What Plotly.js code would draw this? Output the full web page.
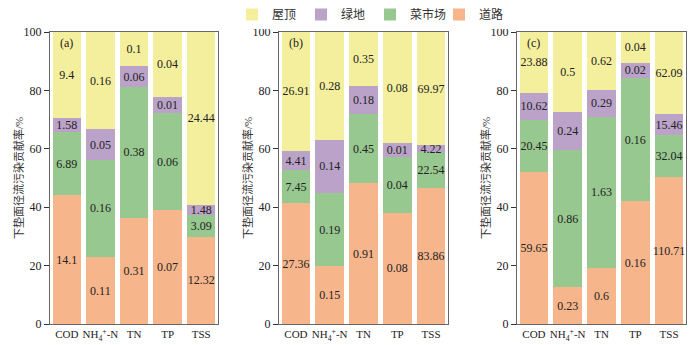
<!DOCTYPE html>
<html>
<head>
<meta charset="utf-8">
<script src="https://cdn.plot.ly/plotly-3.0.1.min.js"></script>
<style>html,body{margin:0;padding:0;background:#fff;}#chart{width:700px;height:345px;}</style>
</head>
<body>
<div id="chart"></div>
<script>
// Categories (pollutants)
const categories = ["COD", "NH<sub>4</sub><sup>+</sup>-N", "TN", "TP", "TSS"];
const seriesNames = ["道路", "菜市场", "绿地", "屋顶"]; // bottom to top
const panelLabels = ["(a)", "(b)", "(c)"];

// Panel (a) values (label values; bar heights are each value's share of the stack)
const roadA   = [14.1, 0.11, 0.31, 0.07, 12.32];
const marketA = [6.89, 0.16, 0.38, 0.06, 3.09];
const greenA  = [1.58, 0.05, 0.06, 0.01, 1.48];
const roofA   = [9.4, 0.16, 0.1, 0.04, 24.44];

// Panel (b)
const roadB   = [27.36, 0.15, 0.91, 0.08, 83.86];
const marketB = [7.45, 0.19, 0.45, 0.04, 22.54];
const greenB  = [4.41, 0.14, 0.18, 0.01, 4.22];
const roofB   = [26.91, 0.28, 0.35, 0.08, 69.97];

// Panel (c)
const roadC   = [59.65, 0.23, 0.6, 0.16, 110.71];
const marketC = [20.45, 0.86, 1.63, 0.16, 32.04];
const greenC  = [10.62, 0.24, 0.29, 0.02, 15.46];
const roofC   = [23.88, 0.5, 0.62, 0.04, 62.09];

const yTicks = [0, 20, 40, 60, 80, 100];
const yTitle = "下垫面径流污染贡献率/%";

const colors = ["#F6B58B", "#97C88F", "#BBA2C8", "#F4EF9D"];
const panels = [
  [roadA, marketA, greenA, roofA],
  [roadB, marketB, greenB, roofB],
  [roadC, marketC, greenC, roofC]
];

const FONT = "'Liberation Serif', 'Times New Roman', 'Noto Sans CJK SC', serif";
const CJK = "'Liberation Serif', 'Noto Sans CJK SC', serif";
const traces = [];
panels.forEach((series, p) => {
  const xa = p === 0 ? "x" : "x" + (p + 1);
  const ya = p === 0 ? "y" : "y" + (p + 1);
  series.forEach((vals, s) => {
    const totals = vals.map((_, i) => series.reduce((a, ser) => a + ser[i], 0));
    traces.push({
      type: "bar",
      x: [0, 1, 2, 3, 4],
      y: vals.map((v, i) => v / totals[i] * 100),
      text: vals.map(String),
      textposition: "inside",
      insidetextanchor: "middle",
      textangle: 0,
      textfont: {family: FONT, size: 12, color: "#222"},
      hoverinfo: "none",
      name: seriesNames[s],
      legendgroup: seriesNames[s],
      showlegend: p === 0,
      marker: {color: colors[s], line: {width: 0}},
      xaxis: xa, yaxis: ya
    });
  });
});

const domains = [[50/700, 218/700], [279/700, 448/700], [517/700, 686/700]];
const layout = {
  width: 700, height: 345,
  margin: {l: 0, r: 0, t: 30, b: 21},
  paper_bgcolor: "#fff", plot_bgcolor: "#fff",
  barmode: "stack",
  bargap: 0.15,
  uniformtext: {minsize: 12, mode: "show"},
  font: {family: FONT, size: 12, color: "#222"},
  showlegend: true,
  legend: {
    orientation: "h", traceorder: "reversed",
    x: 232/700, xanchor: "left", y: 1 + 18/294, yanchor: "middle",
    font: {family: CJK, size: 12, color: "#333"},
    itemwidth: 30, entrywidth: 24, entrywidthmode: "pixels"
  },
  annotations: []
};
domains.forEach((d, p) => {
  const sfx = p === 0 ? "" : String(p + 1);
  layout["xaxis" + sfx] = {
    domain: d, anchor: "y" + sfx,
    range: [-0.5, 4.5],
    tickmode: "array", tickvals: [0, 1, 2, 3, 4], ticktext: categories,
    tickangle: 0, automargin: false,
    ticks: "", showgrid: false, zeroline: false,
    showline: true, linecolor: "#666", linewidth: 1.2, mirror: true,
    tickfont: {family: FONT, size: 11, color: "#222"},
    fixedrange: true
  };
  layout["yaxis" + sfx] = {
    domain: [0, 1], anchor: "x" + sfx,
    range: [0, 100],
    tickmode: "array", tickvals: yTicks,
    ticks: "outside", ticklen: 5, tickcolor: "#333", tickwidth: 1,
    showgrid: false, zeroline: false, automargin: false,
    showline: true, linecolor: "#666", linewidth: 1.2, mirror: true,
    tickfont: {family: FONT, size: 12, color: "#222"},
    fixedrange: true
  };
  layout.annotations.push({
    xref: "x" + sfx, yref: "y" + sfx, x: 0, y: 96.3,
    text: panelLabels[p], showarrow: false,
    font: {family: FONT, size: 12, color: "#222"}
  });
  layout.annotations.push({
    xref: "paper", yref: "paper", x: d[0] - 32/700, y: 0.5,
    xanchor: "center", yanchor: "middle", textangle: -90,
    text: yTitle, showarrow: false,
    font: {family: CJK, size: 11, color: "#333"}
  });
});

Plotly.newPlot("chart", traces, layout, {staticPlot: true, displayModeBar: false});
</script>
</body>
</html>
